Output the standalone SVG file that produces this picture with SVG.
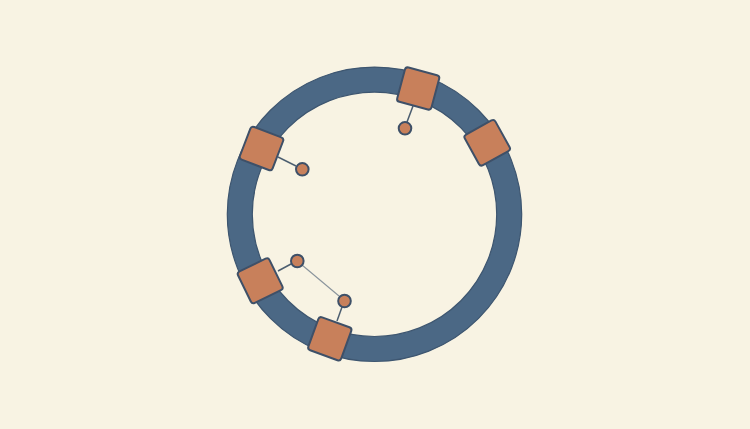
<svg xmlns="http://www.w3.org/2000/svg" width="750" height="429" viewBox="0 0 750 429">
<style>
.ring{fill:none;stroke:#4b6885;stroke-width:25}
.ringedge{fill:none;stroke:#3e5670;stroke-width:1.2}
.blk{fill:#c8805b;stroke:#3e5068;stroke-width:2}
.dot{fill:#c8805b;stroke:#3e5068;stroke-width:2}
.stem{stroke:#4c5e70;stroke-width:1.5;fill:none}
.link{stroke:#8a949c;stroke-width:1.1;fill:none}
</style>
<rect width="750" height="429" fill="#f8f3e3"/>
<g id="ring">
<circle class="ring" cx="374.5" cy="214.3" r="134.7"/>
<circle class="ringedge" cx="374.5" cy="214.3" r="147.2"/>
<circle class="ringedge" cx="374.5" cy="214.3" r="122.2"/>
</g>
<g id="connectors">
<line class="stem" x1="413" y1="106" x2="407" y2="122"/>
<line class="stem" x1="278" y1="157" x2="296" y2="166"/>
<line class="stem" x1="278" y1="271" x2="291" y2="264"/>
<line class="stem" x1="337" y1="321" x2="342" y2="307"/>
<line class="link" x1="302" y1="265" x2="339" y2="296"/>
</g>
<g id="block1"><rect class="blk" x="-17.75" y="-17.75" width="35.5" height="35.5" rx="3" transform="translate(418.2,88.5) rotate(15)"/></g>
<g id="block2"><rect class="blk" x="-17.5" y="-17.5" width="35" height="35" rx="3" transform="translate(487.2,142.8) rotate(-29)"/></g>
<g id="block3"><rect class="blk" x="-17.5" y="-17.5" width="35" height="35" rx="3" transform="translate(261.5,148.5) rotate(21)"/></g>
<g id="block4"><rect class="blk" x="-17.5" y="-17.5" width="35" height="35" rx="3" transform="translate(260.2,280.8) rotate(-26)"/></g>
<g id="block5"><rect class="blk" x="-17.5" y="-17.5" width="35" height="35" rx="3" transform="translate(329.8,338.8) rotate(20)"/></g>
<g id="dot1"><circle class="dot" cx="405" cy="128.3" r="6.3"/></g>
<g id="dot3"><circle class="dot" cx="302.3" cy="169.3" r="6.3"/></g>
<g id="dot4"><circle class="dot" cx="297.3" cy="261" r="6.3"/></g>
<g id="dot5"><circle class="dot" cx="344.5" cy="301" r="6.3"/></g>
</svg>
